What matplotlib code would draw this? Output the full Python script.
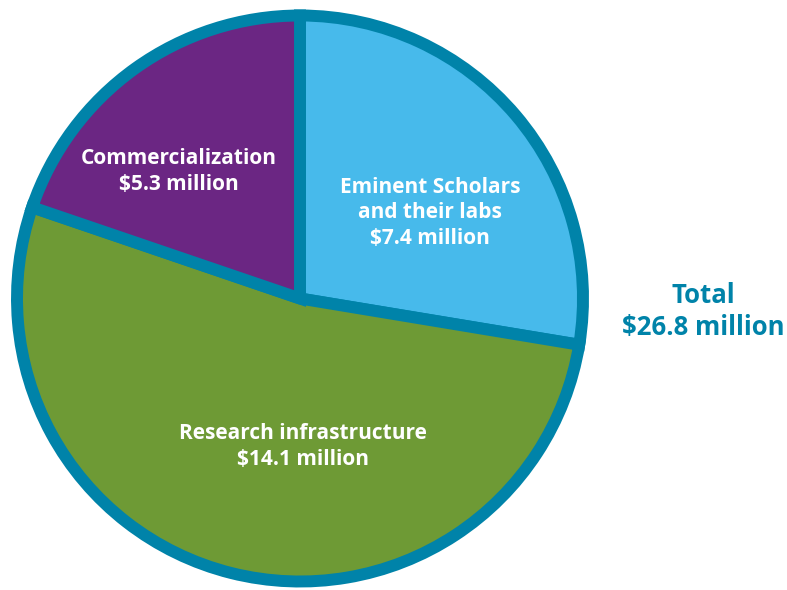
import matplotlib.pyplot as plt

# Funding breakdown ($ million)
categories = ["Eminent Scholars\nand their labs", "Research infrastructure", "Commercialization"]
amounts = [7.4, 14.1, 5.3]
colors = ["#47BAEB", "#6E9A35", "#6B2683"]
edge_color = "#0083A9"
total = sum(amounts)

W, H = 787, 590
fig = plt.figure(figsize=(W / 100, H / 100), dpi=100)
ax = fig.add_axes([0, 0, 1, 1])

# pixel coords measured from the top, flipped for matplotlib
cx, cy, r = 300, H - 298.5, 283
ax.pie(
    amounts,
    colors=colors,
    startangle=90,
    counterclock=False,
    center=(cx, cy),
    radius=r,
    frame=True,
    wedgeprops=dict(edgecolor=edge_color, linewidth=8.6, joinstyle="miter"),
)
ax.set_xlim(0, W)
ax.set_ylim(0, H)
ax.set_aspect("equal")
ax.axis("off")

label_pos = [(430, 213), (303, 446.5), (178.5, 171.5)]
for name, val, (x, y) in zip(categories, amounts, label_pos):
    ax.text(x, H - y, f"{name}\n${val} million", ha="center", va="center",
            color="white", fontsize=15, fontweight="bold", family="Open Sans",
            linespacing=1.3)

ax.text(703, H - 311.5, f"Total\n${total:.1f} million", ha="center", va="center",
        color=edge_color, fontsize=18.5, fontweight="bold", family="Open Sans",
        linespacing=1.27)

fig.savefig("out.png", dpi=100)
